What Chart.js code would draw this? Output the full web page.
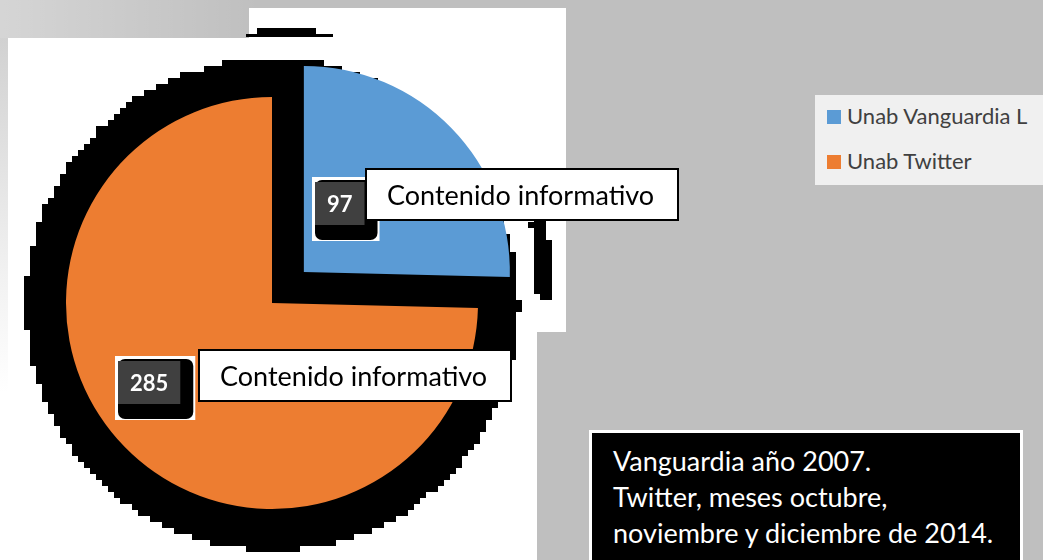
<!DOCTYPE html>
<html>
<head>
<meta charset="utf-8">
<script src="https://cdn.jsdelivr.net/npm/chart.js@4.4.0/dist/chart.umd.min.js"></script>
<style>
  body { margin: 0; }
  #wrap { position: relative; width: 1043px; height: 560px; overflow: hidden; font-family: Lato, sans-serif; }
  #grafica { position: absolute; left: 0; top: 0; }
  #leyenda { position: absolute; left: 815px; top: 95px; width: 228px; height: 90px; background: #f0f0f0; }
  #leyenda .cuadro { position: absolute; left: 12px; width: 14px; height: 14px; }
  #leyenda .texto { position: absolute; left: 32px; font-size: 22px; line-height: 24px; color: #404040; white-space: nowrap; }
  #nota { position: absolute; left: 589px; top: 430px; width: 434px; height: 140px; background: #000;
          border: 3px solid #fff; color: #fff; font-size: 27px; line-height: 36px; padding: 10px 0 0 21px;
          box-sizing: border-box; white-space: nowrap; }
</style>
</head>
<body>
<div id="wrap">
  <canvas id="grafica" width="1043" height="560"></canvas>
  <div id="leyenda"></div>
  <div id="nota">Vanguardia año 2007.<br>Twitter, meses octubre,<br>noviembre y diciembre de 2014.</div>
</div>
<script>
// datos
const categorias = ['Unab Vanguardia L', 'Unab Twitter'];
const valores = [97, 285];
const etiquetas = ['Contenido informativo', 'Contenido informativo'];
const colores = ['#5b9bd5', '#ed7d31'];

// leyenda en html
const leyenda = document.getElementById('leyenda');
categorias.forEach(function(c, i) {
    const cuadro = document.createElement('div');
    cuadro.className = 'cuadro';
    cuadro.style.top = (15 + i * 45) + 'px';
    cuadro.style.background = colores[i];
    const texto = document.createElement('div');
    texto.className = 'texto';
    texto.style.top = (9 + i * 45) + 'px';
    texto.textContent = c;
    leyenda.appendChild(cuadro);
    leyenda.appendChild(texto);
});

// posicion de cada etiqueta respecto al centro del trozo
const posEtiquetas = [
    { nx: -66, ny: -23, tx: -13, ty: -32 },
    { nx: -83, ny: -19, tx: 0, ty: -26 }
];

function centroTrozo(arc, frac) {
    const mitad = (arc.startAngle + arc.endAngle) / 2;
    const desp = (arc.options.offset || 0) / 4;
    const r = desp + arc.outerRadius * frac;
    return { x: arc.x + Math.cos(mitad) * r, y: arc.y + Math.sin(mitad) * r };
}

function rectRedondo(ctx, x, y, w, h, r) {
    ctx.beginPath();
    ctx.moveTo(x + r, y);
    ctx.arcTo(x + w, y, x + w, y + h, r);
    ctx.arcTo(x + w, y + h, x, y + h, r);
    ctx.arcTo(x, y + h, x, y, r);
    ctx.arcTo(x, y, x + w, y, r);
    ctx.closePath();
}

const decorado = {
    id: 'decorado',
    beforeDraw(chart) {
        const ctx = chart.ctx;
        ctx.save();
        ctx.fillStyle = '#bfbfbf';
        ctx.fillRect(0, 0, chart.width, chart.height);
        let g = ctx.createLinearGradient(0, 0, 260, 0);
        g.addColorStop(0, 'rgba(255,255,255,0.35)');
        g.addColorStop(1, 'rgba(255,255,255,0)');
        ctx.fillStyle = g;
        ctx.fillRect(0, 0, 260, 40);
        g = ctx.createLinearGradient(0, 0, 0, 560);
        g.addColorStop(0, '#cccccc');
        g.addColorStop(0.5, '#f2f2f2');
        g.addColorStop(0.7, '#ffffff');
        ctx.fillStyle = g;
        ctx.fillRect(0, 38, 8, 522);
        // zonas blancas
        ctx.fillStyle = '#ffffff';
        ctx.fillRect(8, 38, 529, 522);
        ctx.fillRect(249, 8, 317, 324);
        // barra negra del titulo
        ctx.fillStyle = '#000000';
        ctx.fillRect(257, 28, 59, 9);
        ctx.fillRect(246, 34, 87, 3);
        ctx.restore();
    },
    beforeDatasetsDraw(chart) {
        const ctx = chart.ctx;
        const arcos = chart.getDatasetMeta(0).data;
        const naranja = arcos[1];
        const azul = arcos[0];
        const c = centroTrozo(azul, 0);
        // sombra negra pixelada: se dibuja en baja resolucion y se amplia
        const esc = 6;
        const baja = document.createElement('canvas');
        baja.width = Math.ceil(chart.width / esc);
        baja.height = Math.ceil(chart.height / esc);
        const b = baja.getContext('2d');
        b.fillStyle = '#000000';
        b.beginPath();
        b.arc(naranja.x / esc, (naranja.y + 2) / esc, (naranja.outerRadius + 41) / esc, 0, Math.PI * 2);
        b.fill();
        b.strokeStyle = '#000000';
        b.lineWidth = 16 / esc;
        b.beginPath();
        b.arc(c.x / esc, c.y / esc, (azul.outerRadius + 34) / esc, -13 * Math.PI / 180, 6 * Math.PI / 180);
        b.stroke();
        // bordes duros, sin grises
        const img = b.getImageData(0, 0, baja.width, baja.height);
        for (let k = 3; k < img.data.length; k += 4) {
            img.data[k] = img.data[k] > 110 ? 255 : 0;
        }
        b.putImageData(img, 0, 0);
        ctx.save();
        ctx.imageSmoothingEnabled = false;
        ctx.drawImage(baja, 0, 0, baja.width * esc, baja.height * esc);
        ctx.restore();
    },
    afterDatasetsDraw(chart) {
        const ctx = chart.ctx;
        const arcos = chart.getDatasetMeta(0).data;
        ctx.save();
        arcos.forEach(function(arc, i) {
            const p = centroTrozo(arc, 0.5);
            const pos = posEtiquetas[i];
            const num = String(valores[i]);
            ctx.font = 'bold 22px Lato';
            const anchoGris = ctx.measureText(num).width + 24;
            const nx = Math.round(p.x + pos.nx), ny = Math.round(p.y + pos.ny);
            // fondo blanco, caja negra y caja gris
            ctx.fillStyle = '#ffffff';
            ctx.fillRect(nx, ny, anchoGris + 18, 64);
            ctx.fillStyle = '#000000';
            rectRedondo(ctx, nx + 3, ny + 3, anchoGris + 13, 60, 7);
            ctx.fill();
            ctx.fillStyle = '#404040';
            ctx.fillRect(nx + 3, ny + 5, anchoGris, 43);
            ctx.fillStyle = '#ffffff';
            ctx.textAlign = 'center';
            ctx.textBaseline = 'middle';
            ctx.fillText(num, nx + 3 + anchoGris / 2, ny + 28);
            // caja de texto
            const tx = Math.round(p.x + pos.tx), ty = Math.round(p.y + pos.ty);
            ctx.fillStyle = '#ffffff';
            ctx.fillRect(tx, ty, 314, 53);
            ctx.strokeStyle = '#000000';
            ctx.lineWidth = 2;
            ctx.strokeRect(tx + 1, ty + 1, 312, 51);
            ctx.fillStyle = '#000000';
            ctx.font = '27px Lato';
            ctx.textAlign = 'left';
            ctx.fillText(etiquetas[i], tx + 22, ty + 28);
        });
        ctx.restore();
    }
};

const ctx = document.getElementById('grafica').getContext('2d');
new Chart(ctx, {
    type: 'pie',
    data: {
        labels: categorias,
        datasets: [{
            data: valores,
            backgroundColor: colores,
            borderWidth: 0,
            offset: [178, 0],
            hoverOffset: 0
        }]
    },
    options: {
        responsive: false,
        animation: false,
        radius: 206,
        layout: { padding: { left: 22, right: 521, top: 52, bottom: 6 } },
        plugins: {
            legend: { display: false },
            tooltip: { enabled: false }
        }
    },
    plugins: [decorado]
});
</script>
</body>
</html>
